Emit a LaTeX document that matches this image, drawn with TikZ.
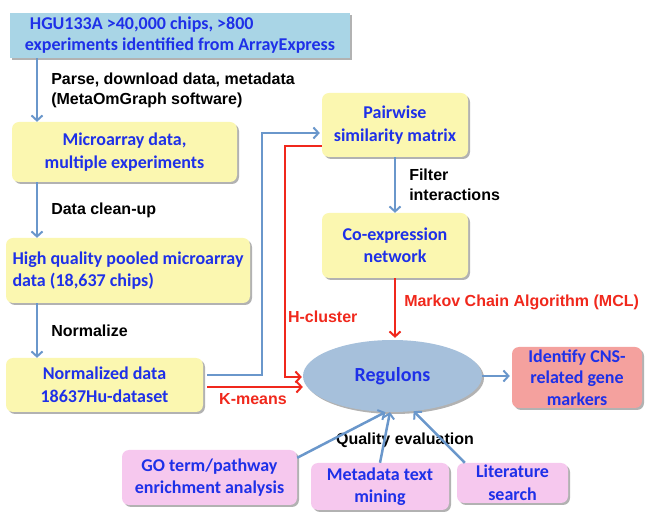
\documentclass[tikz,border=0pt]{standalone}
\usepackage{fontspec}
\setmainfont{Carlito}
\newfontfamily\lblfont{Liberation Sans}
\usetikzlibrary{arrows,arrows.meta,shapes,shadows,calc,positioning}
\definecolor{HeadBlue}{HTML}{A9D5E6}
\definecolor{BoxYellow}{HTML}{FBF7B0}
\definecolor{BoxPink}{HTML}{F6C8EE}
\definecolor{BoxSalmon}{HTML}{F4A19E}
\definecolor{RegBlue}{HTML}{A6C0DB}
\definecolor{TextBlue}{HTML}{1E30E8}
\definecolor{LineBlue}{HTML}{6A97CB}
\definecolor{LineRed}{HTML}{F0281C}
\tikzstyle{flow}  =[draw=LineBlue, line width=2.5pt,
                    -{Straight Barb[length=5pt,width=11pt,line width=2pt]}]
\tikzstyle{cut}   =[flow, draw=LineRed]
\tikzstyle{lbl}   =[font=\lblfont\bfseries\fontsize{16}{20}\selectfont,
                    inner sep=0pt, align=left]
\tikzstyle{cutlbl}=[lbl, text=LineRed]

\begin{document}
\begin{tikzpicture}[x=1pt, y=-1pt,
    box/.style = {rounded corners=7pt, fill=BoxYellow, text=TextBlue,
        font=\bfseries\fontsize{18}{22.5}\selectfont, align=center,
        inner sep=0pt, drop shadow={shadow xshift=2pt, shadow yshift=-2pt,
        opacity=.3, fill=black}}]
\useasboundingbox (0,0) rectangle (649,521);
% left column
\node (top) [box, rounded corners=0pt, fill=HeadBlue, align=left,
    minimum width=340pt, minimum height=45pt,
    font=\bfseries\fontsize{18}{21}\selectfont] at (180,35.5)
    {\hspace*{5pt}HGU133A >40,000 chips, >800\\experiments identified from ArrayExpress};
\node (micro) [box, minimum width=225pt, minimum height=60pt] at (124.5,152)
    {Microarray data,\\multiple experiments};
\node (pooled) [box, align=left, minimum width=244pt, minimum height=65pt]
    at (128,270.5) {High quality pooled microarray\\data (18,637 chips)};
\node (norm) [box, minimum width=197pt, minimum height=54pt] at (104.5,385)
    {Normalized data\\18637Hu-dataset};
% right column
\node (pair) [box, minimum width=146pt, minimum height=64pt] at (395,125)
    {Pairwise\\similarity matrix};
\node (coexp) [box, minimum width=146pt, minimum height=65pt] at (395,245.5)
    {Co-expression\\network};
\node (reg) [box, ellipse, fill=RegBlue, minimum width=179pt,
    minimum height=72pt, font=\bfseries\fontsize{20}{24}\selectfont]
    at (392.5,376) {Regulons};
\node (cns) [box, fill=BoxSalmon, minimum width=130pt, minimum height=61pt,
    font=\bfseries\fontsize{18}{21.5}\selectfont] at (577,377.5)
    {Identify CNS-\\related gene\\markers};
% evaluation boxes
\node (go) [box, fill=BoxPink, minimum width=175pt, minimum height=55pt]
    at (209.5,477.5) {GO term/pathway\\enrichment analysis};
\node (meta) [box, fill=BoxPink, minimum width=138pt, minimum height=47pt]
    at (380,486.5) {Metadata text\\mining};
\node (lit) [box, fill=BoxPink, minimum width=111pt, minimum height=40pt]
    at (512.5,483) {Literature\\search};
\node (qual) [lbl] at (405,440) {Quality evaluation};

\draw [flow] (top.south -| 37,0) -- (micro.north -| 37,0)
    node (parse) [lbl, right=13pt, midway] {Parse, download data, metadata\\(MetaOmGraph software)};
\draw [flow] (micro.south -| 37,0) -- (pooled.north -| 37,0)
    node (clean) [lbl, right=13pt, midway] {Data clean-up};
\draw [flow] (pooled.south -| 37,0) -- (norm.north -| 37,0)
    node (nrm) [lbl, right=13pt, midway] {Normalize};
\draw [flow, shorten <=4pt, shorten >=2pt] ([yshift=10pt]norm.east) -- ++(59,0)
    |- ([yshift=-8pt]pair.west);
\draw [cut, shorten >=1pt] ([yshift=-21pt]pair.west) -- ++(-37,0)
    |- ([yshift=-1pt]reg.west) node (hcl) [cutlbl, right=2pt, pos=.37] {H-cluster};
\draw [cut, shorten <=4pt] ([yshift=-2pt]norm.east) -- ([yshift=-11pt]reg.west)
    node (km) [cutlbl, below=5pt, midway] {K-means};
\draw [flow] (pair.south) -- (coexp.north)
    node (filt) [lbl, right=13pt, midway] {Filter\\interactions};
\draw [cut, shorten >=2pt] (coexp.south) -- (coexp.south |- reg.north)
    node (mcl) [cutlbl, right=8pt, pos=.39] {Markov Chain Algorithm (MCL)};
\draw [flow, shorten >=2pt] (reg.east) -- (reg.east -| cns.west);
\draw [flow] ([yshift=-8pt]go.north east) -- (reg.-101);
\draw [flow] (meta.north) -- (reg.-94);
\draw [flow] ([xshift=8pt]lit.north west) -- (reg.-59);
\end{tikzpicture}
\end{document}
